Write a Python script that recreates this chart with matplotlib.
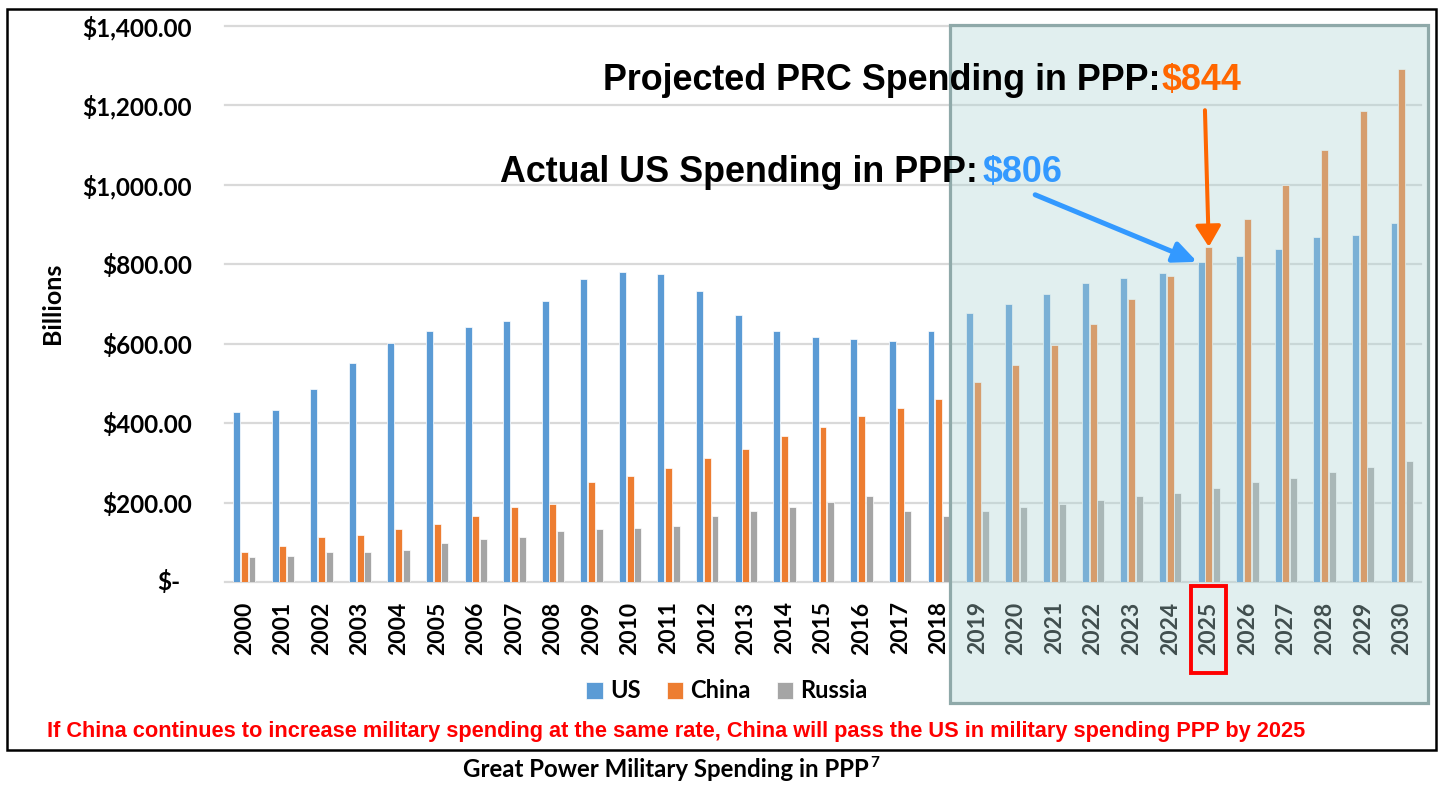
import numpy as np
import matplotlib
matplotlib.use("Agg")
import matplotlib.pyplot as plt
from matplotlib.patches import Rectangle, FancyArrowPatch
from matplotlib.transforms import blended_transform_factory

# values (billions, PPP)
years = [str(y) for y in range(2000, 2031)]
us = [427, 432, 486, 551, 602, 631, 641, 657, 707, 762,
      781, 776, 733, 672, 631, 617, 612, 607, 631, 677,
      701, 725, 752, 766, 779, 806, 821, 839, 868, 873, 905]
china = [76, 91, 113, 118, 133, 147, 166, 188, 197, 253,
         268, 287, 311, 336, 367, 390, 418, 437, 461, 503,
         546, 597, 650, 712, 770, 844, 914, 999, 1088, 1187, 1291]
russia = [62, 66, 76, 76, 81, 98, 108, 113, 128, 133,
          137, 142, 166, 178, 188, 202, 217, 178, 166, 178,
          188, 197, 206, 217, 225, 236, 252, 262, 276, 290, 305]
yticks = list(range(0, 1401, 200))
highlight_year = "2025"

plt.rcParams['font.family'] = ['Lato', 'DejaVu Sans']
plt.rcParams['font.weight'] = 'bold'

W, H = 1442, 785
fig = plt.figure(figsize=(W / 100, H / 100), dpi=100)


def fx(px):
    return px / W


def fy(py):
    return 1 - py / H


ax = fig.add_axes([fx(225), fy(582), fx(1421) - fx(225), fy(26) - fy(582)])
x = np.arange(len(years))
bw = 0.18
ax.bar(x - 0.2, us, bw, color='#5B9BD5', edgecolor='white', linewidth=0.5, label='US', zorder=2)
ax.bar(x, china, bw, color='#ED7D31', edgecolor='white', linewidth=0.5, label='China', zorder=2)
ax.bar(x + 0.2, russia, bw, color='#A5A5A5', edgecolor='white', linewidth=0.5, label='Russia', zorder=2)

ax.set_xlim(-0.5, len(years) - 0.5)
ax.set_ylim(0, 1400)
ax.set_xticks(x)
ax.set_xticklabels(years, rotation=90, fontsize=16.5)
ax.set_yticks(yticks)
ax.set_yticklabels(['' if v == 0 else f'${v:,.2f}' for v in yticks], fontsize=17.5)
ax.tick_params(axis='y', length=0, pad=24)
ax.tick_params(axis='x', length=0, pad=14)
ax.yaxis.grid(True, color='#D9D9D9', linewidth=1.6)
for gl in ax.get_ygridlines():
    gl.set_clip_on(False)
ax.set_axisbelow(True)
for s in ax.spines.values():
    s.set_visible(False)

ax.annotate('$-', xy=(0, 0), xycoords=('axes fraction', 'data'), xytext=(-32, 0),
            textcoords='offset points', ha='right', va='center', fontsize=17.5)
fig.text(fx(52), fy(303), 'Billions', rotation=90, ha='center', va='center', fontsize=18)

ax.legend(loc='center', bbox_to_anchor=(fx(727), fy(691)), bbox_transform=fig.transFigure,
          ncol=3, frameon=False, fontsize=17, handlelength=0.7, handleheight=0.7,
          handletextpad=0.3, columnspacing=1.1)

# outer frame and projection box
fig.add_artist(Rectangle((fx(7), fy(750)), fx(1436) - fx(7), fy(9) - fy(750), fill=False,
                         edgecolor='black', linewidth=1.8, transform=fig.transFigure, zorder=1))
fig.add_artist(Rectangle((fx(950), fy(703)), fx(1428) - fx(950), fy(25) - fy(703),
                         facecolor=(0.69, 0.84, 0.84, 0.37), edgecolor='#8FA9A9', linewidth=2.3,
                         transform=fig.transFigure, zorder=1))

i25 = years.index(highlight_year)
fig.add_artist(Rectangle((i25 - 0.45, fy(673)), 0.9, fy(586) - fy(673), fill=False,
                         edgecolor='#FF0000', linewidth=2.8,
                         transform=blended_transform_factory(ax.transData, fig.transFigure),
                         zorder=2))

# call-outs
arial = ['Liberation Sans', 'DejaVu Sans']
t1 = fig.text(fx(603), fy(90), 'Projected PRC Spending in PPP:', fontsize=25.8, family=arial,
              va='baseline', zorder=3)
t2 = fig.text(fx(500), fy(182), 'Actual US Spending in PPP:', fontsize=25.8, family=arial,
              va='baseline', zorder=3)
fig.canvas.draw()
r = fig.canvas.get_renderer()
b1 = t1.get_window_extent(r)
b2 = t2.get_window_extent(r)
fig.text(b1.x1 / W + 0.001, fy(90), f'${china[i25]}', fontsize=25.8, family=arial,
         color='#FF6600', va='baseline', zorder=3)
fig.text(b2.x1 / W + 0.003, fy(182), f'${us[i25]}', fontsize=25.8, family=arial,
         color='#3399FF', va='baseline', zorder=3)

fig.add_artist(FancyArrowPatch((20.5, 975), (i25 - 0.3, us[i25]), transform=ax.transData,
                               arrowstyle='-|>,head_length=1.0,head_width=0.45',
                               mutation_scale=14, color='#3399FF', lw=3.6,
                               shrinkA=0, shrinkB=0, zorder=3))
fig.add_artist(FancyArrowPatch((i25 - 0.1, 1188), (i25, china[i25]), transform=ax.transData,
                               arrowstyle='-|>,head_length=0.9,head_width=0.55',
                               mutation_scale=14, color='#FF6600', lw=2.9,
                               shrinkA=0, shrinkB=0, zorder=3))

fig.text(fx(47), fy(732),
         'If China continues to increase military spending at the same rate, '
         'China will pass the US in military spending PPP by 2025',
         color='#FF0000', fontsize=15.7, family=['Liberation Sans Narrow', 'Liberation Sans'],
         va='center', zorder=3)

cap = fig.text(fx(463), fy(777), 'Great Power Military Spending in PPP', fontsize=17.3,
               va='baseline', zorder=3)
fig.canvas.draw()
cb = cap.get_window_extent(r)
fig.text(cb.x1 / W + 0.001, fy(767), '7', fontsize=11, va='baseline', zorder=3)

plt.savefig('out.png', dpi=100)
